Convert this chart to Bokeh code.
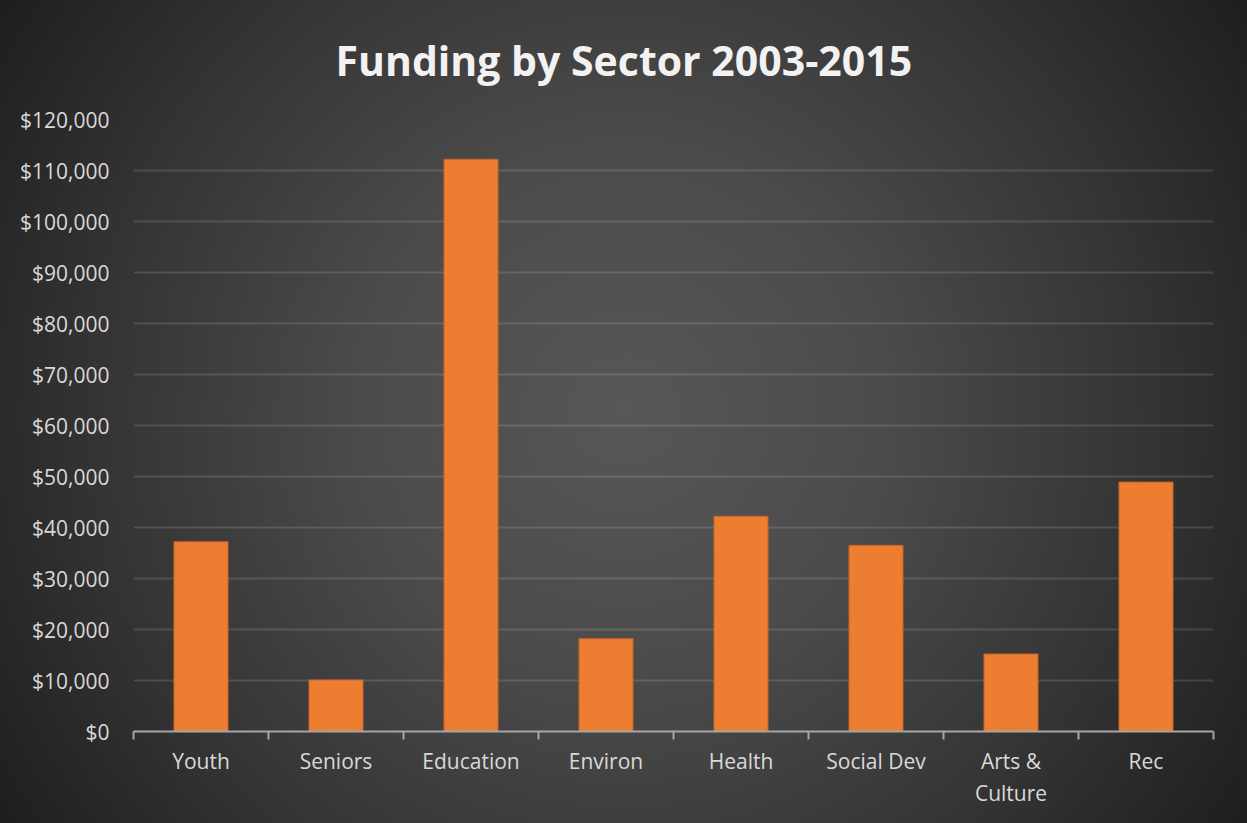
from bokeh.plotting import figure
from bokeh.models import FixedTicker, NumeralTickFormatter, Range1d, ColumnDataSource
from bokeh.embed import file_html
from bokeh.resources import INLINE
import numpy as np

categories = ["Youth", "Seniors", "Education", "Environ", "Health", "Social Dev", "Arts &\nCulture", "Rec"]
funding = [37200, 10100, 112200, 18200, 42200, 36500, 15200, 48900]
y_ticks = [0, 10000, 20000, 30000, 40000, 50000, 60000, 70000, 80000, 90000, 100000, 110000, 120000]
title_text = "Funding by Sector 2003-2015"

n = len(categories)
xpos = np.arange(n) + 0.5
src = ColumnDataSource(dict(x=xpos, top=funding, cat=categories))

W, H = 1247, 823
ML, MR, MT, MB = 133, 34, 119, 92
p = figure(width=W, height=H, output_backend="svg", toolbar_location=None,
           x_range=Range1d(0, n), y_range=Range1d(0, 120000),
           min_border_left=ML, min_border_right=MR, min_border_top=MT, min_border_bottom=MB,
           title=title_text)

p.styles = {"background": "radial-gradient(circle at 50% 50%, #575757 0%, #4b4b4b 35%, #343434 70%, #1e1e1e 100%)"}
p.border_fill_color = None
p.background_fill_color = None
p.outline_line_color = None

p.title.align = "left"
p.title.offset = 202
p.title.vertical_align = "top"
p.title.text_color = "#f2f2f2"
p.title.text_font = "Open Sans"
p.title.text_font_style = "bold"
p.title.text_font_size = "41px"
p.title.standoff = 60

p.vbar(x="x", top="top", width=0.4, bottom=0, source=src, fill_color="#ED7D31",
       line_color="#C8642A", line_width=1)

# x axis
xa = p.xaxis[0]
xa.ticker = FixedTicker(ticks=list(xpos), minor_ticks=list(range(n + 1)))
xa.major_label_overrides = {float(x): c for x, c in zip(xpos, categories)}
xa.major_tick_line_color = None
xa.major_tick_out = 0
xa.major_tick_in = 0
xa.minor_tick_line_color = "#a6a6a6"
xa.minor_tick_line_width = 2
xa.minor_tick_out = 8
xa.minor_tick_in = 0
xa.axis_line_color = "#a6a6a6"
xa.axis_line_width = 2
xa.major_label_text_color = "#d9d9d9"
xa.major_label_text_font = "Open Sans"
xa.major_label_text_font_size = "21px"
xa.major_label_text_line_height = 1.15
xa.major_label_standoff = 7

# y axis
ya = p.yaxis[0]
ya.ticker = FixedTicker(ticks=y_ticks)
ya.formatter = NumeralTickFormatter(format="$0,0")
ya.axis_line_color = None
ya.major_tick_line_color = None
ya.minor_tick_line_color = None
ya.major_label_text_color = "#d9d9d9"
ya.major_label_text_font = "Open Sans"
ya.major_label_text_font_size = "21px"
ya.major_label_standoff = 18

p.xgrid.grid_line_color = None
p.ygrid.ticker = FixedTicker(ticks=y_ticks)
p.ygrid.grid_line_color = "white"
p.ygrid.grid_line_alpha = 0.13
p.ygrid.grid_line_width = 2

open("out.html", "w").write(file_html(p, INLINE))
